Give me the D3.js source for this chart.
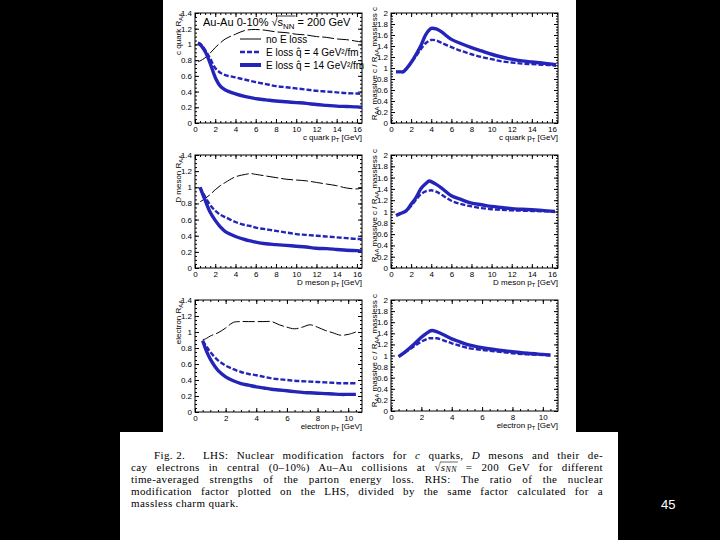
<!DOCTYPE html>
<html>
<head>
<meta charset="utf-8">
<script src="https://cdn.jsdelivr.net/npm/d3@7"></script>
<style>
body { margin:0; background:#000; }
svg { display:block; }
text { font-family:"Liberation Sans", Arial, sans-serif; }
.cap text { font-family:"Liberation Serif", "DejaVu Serif", serif; }
</style>
</head>
<body>
<svg id="chart" width="720" height="540"></svg>
<script>
// ---- data ----
// c quark R_AA (top left)
var cqPt     = [0.3, 0.5, 1, 1.5, 2, 2.5, 3, 4, 5, 6, 7, 8, 9, 10, 11, 12, 13, 14, 15, 16, 16.5];
var cqNoLoss = [0.78, 0.79, 0.83, 0.89, 0.96, 1.02, 1.07, 1.13, 1.18, 1.19, 1.18, 1.16, 1.15, 1.13, 1.12, 1.10, 1.09, 1.07, 1.06, 1.04, 1.03];
var cqQ4     = [1.02, 1.01, 0.93, 0.82, 0.70, 0.64, 0.61, 0.58, 0.55, 0.52, 0.495, 0.47, 0.455, 0.44, 0.425, 0.41, 0.40, 0.39, 0.38, 0.375, 0.37];
var cqQ14    = [1.02, 1.00, 0.91, 0.76, 0.58, 0.47, 0.42, 0.37, 0.335, 0.31, 0.295, 0.28, 0.27, 0.26, 0.25, 0.235, 0.225, 0.215, 0.21, 0.205, 0.20];
// c quark ratio massive/massless (top right)
var cqRatioPt  = [0.5, 1, 1.2, 1.5, 2, 2.5, 3, 3.5, 4, 4.5, 5, 6, 7, 8, 9, 10, 11, 12, 13, 14, 15, 16, 16.4];
var cqRatioQ14 = [0.93, 0.93, 0.93, 0.98, 1.10, 1.25, 1.42, 1.62, 1.72, 1.71, 1.66, 1.52, 1.44, 1.37, 1.31, 1.25, 1.20, 1.16, 1.13, 1.11, 1.09, 1.07, 1.06];
var cqRatioQ4  = [0.93, 0.93, 0.93, 0.98, 1.09, 1.22, 1.35, 1.46, 1.51, 1.50, 1.46, 1.38, 1.31, 1.25, 1.20, 1.16, 1.12, 1.10, 1.08, 1.07, 1.06, 1.05, 1.04];
// D meson R_AA (middle left)
var dmPt     = [0.5, 1, 1.5, 2, 2.5, 3, 4, 5, 5.5, 6, 7, 8, 9, 10, 11, 12, 13, 14, 15, 16, 16.5];
var dmNoLoss = [0.82, 0.86, 0.91, 0.97, 1.02, 1.06, 1.13, 1.16, 1.17, 1.16, 1.14, 1.12, 1.10, 1.09, 1.08, 1.06, 1.04, 1.02, 0.99, 0.98, 0.99];
var dmQ4     = [1.00, 0.88, 0.78, 0.71, 0.66, 0.63, 0.57, 0.53, 0.52, 0.50, 0.48, 0.46, 0.44, 0.42, 0.41, 0.40, 0.39, 0.38, 0.37, 0.36, 0.36];
var dmQ14    = [1.00, 0.84, 0.69, 0.59, 0.51, 0.45, 0.39, 0.35, 0.335, 0.32, 0.30, 0.29, 0.28, 0.27, 0.26, 0.245, 0.24, 0.23, 0.22, 0.215, 0.21];
// D meson ratio (middle right)
var dmRatioPt  = [0.5, 1, 1.5, 2, 2.5, 3, 3.5, 3.8, 4, 4.5, 5, 6, 7, 8, 9, 10, 11, 12, 13, 14, 15, 16.3];
var dmRatioQ14 = [0.93, 0.97, 1.01, 1.13, 1.25, 1.41, 1.50, 1.54, 1.53, 1.48, 1.42, 1.28, 1.21, 1.15, 1.12, 1.09, 1.07, 1.05, 1.04, 1.03, 1.02, 1.00];
var dmRatioQ4  = [0.93, 0.97, 1.01, 1.10, 1.21, 1.31, 1.36, 1.37, 1.375, 1.35, 1.30, 1.19, 1.13, 1.09, 1.06, 1.04, 1.03, 1.02, 1.015, 1.01, 1.005, 1.00];
// electron R_AA (bottom left)
var elPt     = [0.5, 0.75, 1, 1.5, 2, 2.5, 3, 3.5, 4, 4.5, 5, 5.5, 6, 6.5, 7, 7.5, 8, 8.5, 9, 9.5, 10, 10.5];
var elNoLoss = [0.90, 0.92, 0.95, 0.99, 1.05, 1.12, 1.13, 1.13, 1.13, 1.13, 1.13, 1.09, 1.06, 1.04, 1.06, 1.09, 1.06, 1.02, 0.99, 0.96, 0.97, 1.00];
var elQ4     = [0.89, 0.82, 0.75, 0.645, 0.58, 0.535, 0.50, 0.475, 0.46, 0.44, 0.42, 0.41, 0.40, 0.39, 0.385, 0.38, 0.375, 0.37, 0.365, 0.36, 0.36, 0.36];
var elQ14    = [0.89, 0.76, 0.66, 0.52, 0.44, 0.39, 0.355, 0.335, 0.315, 0.30, 0.285, 0.275, 0.265, 0.255, 0.245, 0.24, 0.235, 0.23, 0.225, 0.22, 0.22, 0.22];
// electron ratio (bottom right)
var elRatioPt  = [0.5, 1, 1.5, 2, 2.5, 2.7, 3, 3.5, 4, 4.5, 5, 6, 7, 8, 9, 10, 10.5];
var elRatioQ14 = [0.98, 1.08, 1.20, 1.33, 1.43, 1.45, 1.43, 1.37, 1.30, 1.25, 1.20, 1.14, 1.10, 1.07, 1.04, 1.02, 1.01];
var elRatioQ4  = [0.98, 1.07, 1.16, 1.25, 1.31, 1.31, 1.31, 1.27, 1.22, 1.18, 1.14, 1.10, 1.07, 1.04, 1.02, 1.01, 1.00];

// tick values
var xTicksLong  = [0, 2, 4, 6, 8, 10, 12, 14, 16];
var xTicksShort = [0, 2, 4, 6, 8, 10];
var yTicksLeft  = [0, 0.2, 0.4, 0.6, 0.8, 1, 1.2, 1.4];
var yTicksRight = [0, 0.2, 0.4, 0.6, 0.8, 1, 1.2, 1.4, 1.6, 1.8, 2];

var legendLabels = ["no E loss", "E loss q\u0302 = 4 GeV\u00b2/fm", "E loss q\u0302 = 14 GeV\u00b2/fm"];

var BLUE = "#2424b8";

var svg = d3.select("#chart");
svg.append("rect").attr("width",720).attr("height",540).attr("fill","#000");
svg.append("rect").attr("x",163).attr("y",0).attr("width",413).attr("height",432).attr("fill","#fff");
svg.append("rect").attr("x",120).attr("y",432).attr("width",498).attr("height",108).attr("fill","#fff");

// text with sub/superscripts; parts = [string, mode, italic]
function rich(t, parts, fs, sub){
  var shift = 0, spans = [];
  sub = sub || 0.3;
  parts.forEach(function(p){
    var target = p[1]==="sub" ? fs*sub : (p[1]==="sup" ? -fs*0.4 : 0);
    var ts = t.append("tspan").attr("dy", target-shift).text(p[0]);
    shift = target;
    if(p[1]) ts.attr("font-size", fs*0.72);
    if(p[2]) ts.attr("font-style","italic");
    spans.push(ts);
  });
  return spans;
}

var panels = [
  {x0:195, x1:362, y0:13,  y1:123, xmax:16.5, ymax:1.4, xt:xTicksLong,  yt:yTicksLeft,
   pt:cqPt, noLoss:cqNoLoss, q4:cqQ4, q14:cqQ14, xl:"c quark p", side:"L", yl:"c quark R"},
  {x0:391, x1:558, y0:13,  y1:123, xmax:16.6, ymax:2,   xt:xTicksLong,  yt:yTicksRight,
   pt:cqRatioPt, q4:cqRatioQ4, q14:cqRatioQ14, xl:"c quark p", side:"R"},
  {x0:195, x1:362, y0:155, y1:268, xmax:16.5, ymax:1.4, xt:xTicksLong,  yt:yTicksLeft,
   pt:dmPt, noLoss:dmNoLoss, q4:dmQ4, q14:dmQ14, xl:"D meson p", side:"L", yl:"D meson R"},
  {x0:391, x1:558, y0:155, y1:268, xmax:16.6, ymax:2,   xt:xTicksLong,  yt:yTicksRight,
   pt:dmRatioPt, q4:dmRatioQ4, q14:dmRatioQ14, xl:"D meson p", side:"R"},
  {x0:195, x1:362, y0:300, y1:412, xmax:10.9, ymax:1.4, xt:xTicksShort, yt:yTicksLeft,
   pt:elPt, noLoss:elNoLoss, q4:elQ4, q14:elQ14, xl:"electron p", side:"L", yl:"electron R"},
  {x0:391, x1:558, y0:300, y1:411, xmax:11,   ymax:2,   xt:xTicksShort, yt:yTicksRight,
   pt:elRatioPt, q4:elRatioQ4, q14:elRatioQ14, xl:"electron p", side:"R"}
];

function fmt(d){ return String(+d.toFixed(1)); }

function styleAxis(g){
  g.select(".domain").remove();
  g.attr("font-family",null).attr("font-size",8);
  g.selectAll("line").attr("stroke","#000");
}

panels.forEach(function(p){
  var x = d3.scaleLinear().domain([0,p.xmax]).range([p.x0,p.x1]);
  var y = d3.scaleLinear().domain([0,p.ymax]).range([p.y1,p.y0]);
  var g = svg.append("g");
  var xMinor = d3.range(0, p.xmax, 0.5);
  var yMinor = d3.range(0, p.ymax+1e-9, 0.05);

  g.append("g").attr("transform","translate(0,"+p.y1+")")
    .call(d3.axisBottom(x).tickValues(p.xt).tickSize(-4).tickPadding(3).tickFormat(fmt)).call(styleAxis);
  g.append("g").attr("transform","translate(0,"+p.y1+")")
    .call(d3.axisBottom(x).tickValues(xMinor).tickSize(-2).tickFormat("")).call(styleAxis);
  g.append("g").attr("transform","translate(0,"+p.y0+")")
    .call(d3.axisTop(x).tickValues(p.xt).tickSize(-4).tickFormat("")).call(styleAxis);
  g.append("g").attr("transform","translate(0,"+p.y0+")")
    .call(d3.axisTop(x).tickValues(xMinor).tickSize(-2).tickFormat("")).call(styleAxis);
  g.append("g").attr("transform","translate("+p.x0+",0)")
    .call(d3.axisLeft(y).tickValues(p.yt).tickSize(-4).tickPadding(3).tickFormat(fmt)).call(styleAxis);
  g.append("g").attr("transform","translate("+p.x0+",0)")
    .call(d3.axisLeft(y).tickValues(yMinor).tickSize(-2).tickFormat("")).call(styleAxis);
  g.append("g").attr("transform","translate("+p.x1+",0)")
    .call(d3.axisRight(y).tickValues(p.yt).tickSize(-4).tickFormat("")).call(styleAxis);
  g.append("g").attr("transform","translate("+p.x1+",0)")
    .call(d3.axisRight(y).tickValues(yMinor).tickSize(-2).tickFormat("")).call(styleAxis);

  g.append("rect").attr("x",p.x0).attr("y",p.y0).attr("width",p.x1-p.x0).attr("height",p.y1-p.y0)
    .attr("fill","none").attr("stroke","#000").attr("stroke-width",1);

  var line = d3.line().x(function(d){return x(d[0]);}).y(function(d){return y(d[1]);})
    .curve(d3.curveCatmullRom);
  if(p.noLoss){
    g.append("path").attr("d", line(d3.zip(p.pt, p.noLoss))).attr("fill","none")
      .attr("stroke","#000").attr("stroke-width",1).attr("stroke-dasharray","12,3");
  }
  g.append("path").attr("d", line(d3.zip(p.pt, p.q4))).attr("fill","none")
    .attr("stroke",BLUE).attr("stroke-width",2.4).attr("stroke-dasharray","5,2");
  g.append("path").attr("d", line(d3.zip(p.pt, p.q14))).attr("fill","none")
    .attr("stroke",BLUE).attr("stroke-width",3.4);

  // x title
  var xt = g.append("text").attr("x",p.x1).attr("y",p.y1+17).attr("text-anchor","end").attr("font-size",8);
  rich(xt, [[p.xl],["T","sub"],[" [GeV]"]], 8);

  // y title
  if(p.side==="L"){
    var yt = g.append("text").attr("transform","translate(181,"+p.y0+") rotate(-90)")
      .attr("text-anchor","end").attr("font-size",8);
    rich(yt, [[p.yl],["AA","sub"]], 8);
  } else {
    var yr = g.append("text").attr("transform","translate(377,"+(p.y0-6)+") rotate(-90)")
      .attr("text-anchor","end").attr("font-size",8);
    rich(yr, [["R"],["AA","sub"],[" massive c / R"],["AA","sub"],[" massless c"]], 8);
  }
});

// header and legend in the first panel
var head = svg.append("text").attr("x",203).attr("y",26).attr("font-size",11);
var hs = rich(head, [["Au-Au 0-10% \u221a"],["s"],["NN","sub"],[" = 200 GeV"]], 11);
var sx = hs[1].node().getStartPositionOfChar(0).x;
var ex = hs[2].node().getEndPositionOfChar(1).x;
svg.append("line").attr("x1",sx-1).attr("x2",ex+1).attr("y1",16).attr("y2",16)
  .attr("stroke","#000").attr("stroke-width",0.8);

var legY = [39, 52, 65];
var legStyle = [
  {stroke:"#000", w:1, dash:null},
  {stroke:BLUE, w:2.4, dash:"5,2"},
  {stroke:BLUE, w:4, dash:null}
];
legendLabels.forEach(function(lab, i){
  var s = legStyle[i];
  var l = svg.append("line").attr("x1",240).attr("x2",261).attr("y1",legY[i]).attr("y2",legY[i])
    .attr("stroke",s.stroke).attr("stroke-width",s.w);
  if(s.dash) l.attr("stroke-dasharray",s.dash);
  svg.append("text").attr("x",266).attr("y",legY[i]+3.6).attr("font-size",10).text(lab);
});

// caption
var capX = 131, capR = 603, capBase = 459, capStep = 12, capFs = 11, capLS = 0.4;
var cap = svg.append("g").attr("class","cap");

function justify(t, x0, x1){
  t.attr("letter-spacing", capLS);
  var n = t.node();
  var natural = n.getComputedTextLength();
  var spaces = (n.textContent.match(/ /g) || []).length;
  if(spaces>0) t.attr("word-spacing", (x1-x0-natural)/spaces);
}

cap.append("text").attr("x",154).attr("y",capBase).attr("font-size",capFs).attr("letter-spacing",capLS).text("Fig. 2.");
var l1 = cap.append("text").attr("x",203).attr("y",capBase).attr("font-size",capFs);
rich(l1, [["LHS: Nuclear modification factors for "],["c",null,true],[" quarks, "],["D",null,true],[" mesons and their de-"]], capFs);
justify(l1, 203, capR);

var l2 = cap.append("text").attr("x",capX).attr("y",capBase+capStep).attr("font-size",capFs);
var l2s = rich(l2, [["cay electrons in central (0\u201310%) Au\u2013Au collisions at \u221a"],["s",null,true],["NN","sub",true],[" = 200 GeV for different"]], capFs, 0.1);
justify(l2, capX, capR);
var csx = l2s[1].node().getStartPositionOfChar(0).x;
var cex = l2s[2].node().getEndPositionOfChar(1).x;
cap.append("line").attr("x1",csx-1).attr("x2",cex+1).attr("y1",capBase+capStep-9).attr("y2",capBase+capStep-9)
  .attr("stroke","#000").attr("stroke-width",0.6);

var l3 = cap.append("text").attr("x",capX).attr("y",capBase+2*capStep).attr("font-size",capFs)
  .text("time-averaged strengths of the parton energy loss. RHS: The ratio of the nuclear");
justify(l3, capX, capR);
var l4 = cap.append("text").attr("x",capX).attr("y",capBase+3*capStep).attr("font-size",capFs)
  .text("modification factor plotted on the LHS, divided by the same factor calculated for a");
justify(l4, capX, capR);
cap.append("text").attr("x",capX).attr("y",capBase+4*capStep).attr("font-size",capFs).attr("letter-spacing",capLS)
  .text("massless charm quark.");

// slide number
svg.append("text").attr("x",661).attr("y",509).attr("font-size",13).attr("fill","#fff").text("45");
</script>
</body>
</html>
